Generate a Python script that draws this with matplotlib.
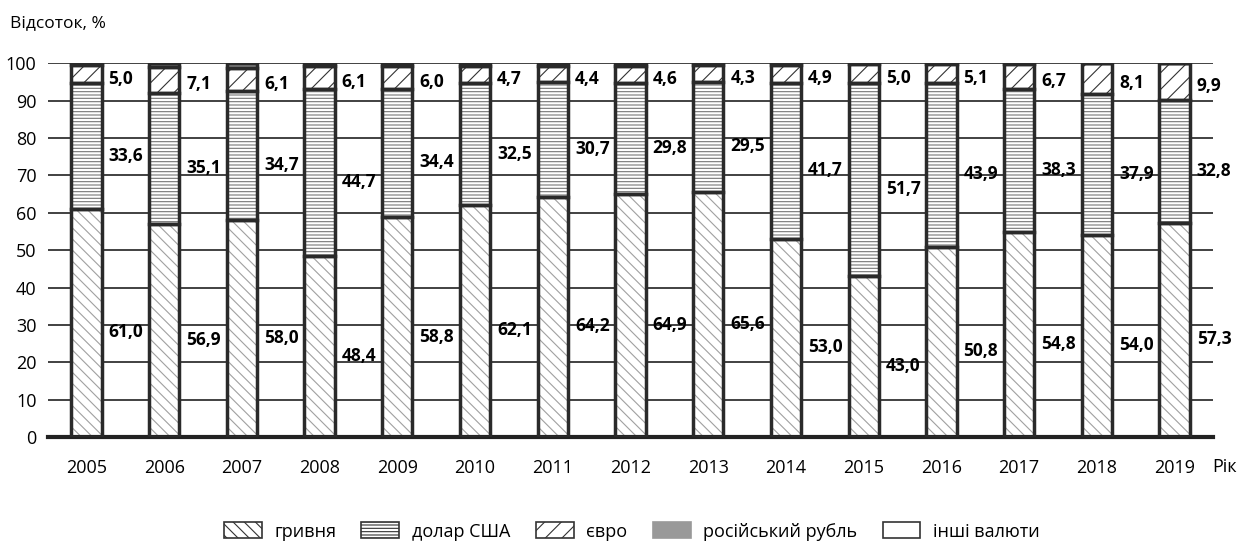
import numpy as np
import matplotlib
matplotlib.use("Agg")
from matplotlib import pyplot as plt
from matplotlib.patches import Patch

plt.rcParams['font.family'] = ['Open Sans', 'DejaVu Sans']
plt.rcParams['hatch.linewidth'] = 0.8

#---DATOS
roky = ["2005", "2006", "2007", "2008", "2009", "2010", "2011", "2012",
        "2013", "2014", "2015", "2016", "2017", "2018", "2019"]
hryvnia = [61.0, 56.9, 58.0, 48.4, 58.8, 62.1, 64.2, 64.9, 65.6, 53.0, 43.0, 50.8, 54.8, 54.0, 57.3]
dolar = [33.6, 35.1, 34.7, 44.7, 34.4, 32.5, 30.7, 29.8, 29.5, 41.7, 51.7, 43.9, 38.3, 37.9, 32.8]
evro = [5.0, 7.1, 6.1, 6.1, 6.0, 4.7, 4.4, 4.6, 4.3, 4.9, 5.0, 5.1, 6.7, 8.1, 9.9]
rubl = [0.4, 0.9, 1.2, 0.8, 0.8, 0.7, 0.7, 0.7, 0.6, 0.4, 0.3, 0.2, 0.2, 0.0, 0.0]
inshi = [0.0, 0.0, 0.0, 0.0, 0.0, 0.0, 0.0, 0.0, 0.0, 0.0, 0.0, 0.0, 0.0, 0.0, 0.0]

nazvy = ["гривня", "долар США", "євро", "російський рубль", "інші валюти"]

x = np.arange(len(roky))
w = 0.39
edge = "#2a2a2a"

fig = plt.figure(figsize=(12.51, 5.45), dpi=100)
ax = fig.add_axes([0.038, 0.198, 0.932, 0.686])

#lineas de la cuadricula
for v in range(10, 101, 10):
    ax.axhline(v, color="#333333", lw=1.3, zorder=0)

styles = [
    dict(facecolor="white", hatch="\\\\\\", edgecolor="#a0a0a0"),
    dict(facecolor="white", hatch="-----", edgecolor="#777777"),
    dict(facecolor="white", hatch="//", edgecolor="#333333"),
    dict(facecolor="#999999", hatch=None, edgecolor="#999999"),
    dict(facecolor="white", hatch=None, edgecolor="#333333"),
]

seg = [hryvnia, dolar, evro, rubl, inshi]
bottom = np.zeros(len(roky))
for k in range(5):
    vals = np.array(seg[k])
    ax.bar(x, vals, w, bottom=bottom, color=styles[k]["facecolor"],
           hatch=styles[k]["hatch"], edgecolor=styles[k]["edgecolor"],
           linewidth=0, zorder=2)
    # contorno
    ax.bar(x, vals, w, bottom=bottom, fill=False, edgecolor=edge,
           linewidth=2.5, zorder=3)
    if k < 3:
        for i in range(len(roky)):
            off = -1.2 if k == 2 else -2.5
            ax.text(x[i] + w / 2 + 0.09, bottom[i] + vals[i] / 2 + off,
                    ("%.1f" % vals[i]).replace(".", ","), ha="left", va="center",
                    fontsize=12.5, fontweight="bold", color="black", zorder=4)
    bottom = bottom + vals

ax.set_xlim(-0.5, 14.5)
ax.set_ylim(0, 100)
ax.set_yticks(range(0, 101, 10))
ax.set_xticks(x)
ax.set_xticklabels(roky)
for s in ["top", "right", "left"]:
    ax.spines[s].set_visible(False)
ax.spines["bottom"].set_linewidth(3)
ax.spines["bottom"].set_color("#222222")
ax.tick_params(axis="y", length=0, labelsize=13, pad=8)
ax.tick_params(axis="x", length=0, labelsize=13, pad=16)

fig.text(0.008, 0.958, "Відсоток, %", fontsize=12.5, ha="left", va="center")
fig.text(0.969, 0.143, "Рік", fontsize=13, ha="left", va="center")

#leyenda
handles = [Patch(facecolor=styles[k]["facecolor"], hatch=styles[k]["hatch"],
                 edgecolor="#333333" if k != 3 else "#999999", linewidth=1.2)
           for k in range(5)]
fig.legend(handles, nazvy, loc="center", bbox_to_anchor=(0.505, 0.025), ncol=5,
           frameon=False, fontsize=13, handlelength=2.1, handleheight=1.0,
           handletextpad=0.7, columnspacing=1.4, borderpad=0.1)

fig.savefig("out.png", dpi=100)
